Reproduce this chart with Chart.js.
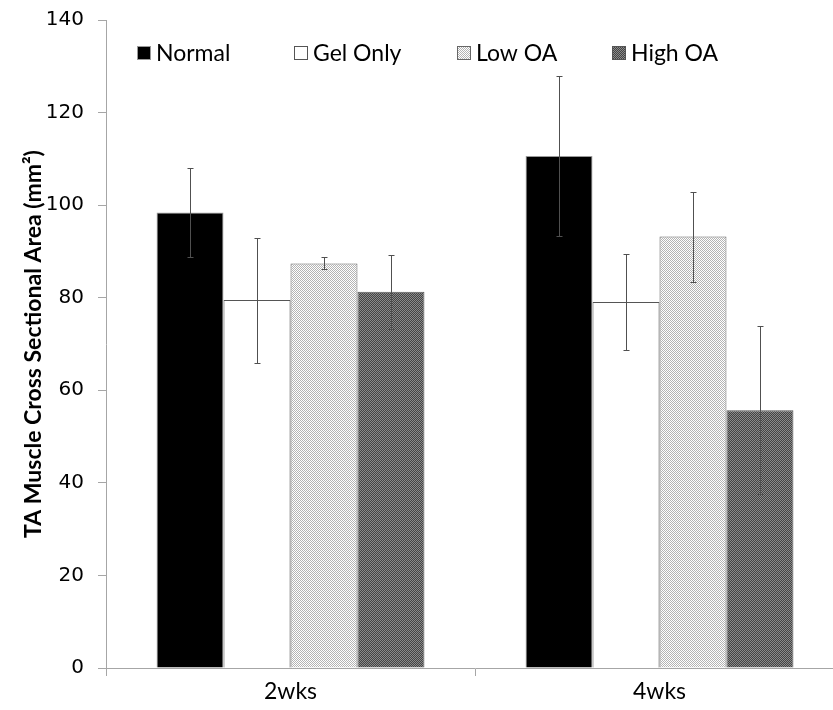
<!DOCTYPE html>
<html>
<head>
<meta charset="utf-8">
<script src="https://cdn.jsdelivr.net/npm/chart.js@4.4.1/dist/chart.umd.min.js"></script>
<style>
  html, body { margin:0; padding:0; background:#fff; overflow:hidden; }
  #wrap { width:833px; height:710px; overflow:hidden; position:relative; }
  #grafico { position:absolute; left:0; top:0; }
</style>
</head>
<body>
<div id="wrap"><canvas id="grafico" width="850" height="710"></canvas></div>
<script>
// dados
const categorias = ["2wks", "4wks"];
const grupos = ["Normal", "Gel Only", "Low OA", "High OA"];
const normal   = [98.4, 110.6];
const gelOnly  = [79.5, 79.1];
const lowOA    = [87.4, 93.2];
const highOA   = [81.3, 55.7];
const errNormal  = [9.6, 17.2];
const errGelOnly = [13.5, 10.4];
const errLowOA   = [1.3, 9.7];
const errHighOA  = [8.0, 18.2];
const yTicks = [0, 20, 40, 60, 80, 100, 120, 140];

function xadrez(c1, c2){
  const p = document.createElement("canvas");
  p.width = 2; p.height = 2;
  const g = p.getContext("2d");
  g.fillStyle = c1; g.fillRect(0,0,2,2);
  g.fillStyle = c2; g.fillRect(0,0,1,1); g.fillRect(1,1,1,1);
  return document.getElementById("grafico").getContext("2d").createPattern(p, "repeat");
}

const padraoLow = xadrez("#ffffff", "#b4b4b4");
const padraoHigh = xadrez("#444444", "#8a8a8a");

const estilos = [
  { bg:"#000000", borda:"#9a9a9a" },
  { bg:"#ffffff", borda:"#555555" },
  { bg:padraoLow, borda:"#666666" },
  { bg:padraoHigh, borda:"#555555" }
];
const valores = [normal, gelOnly, lowOA, highOA];
const erros = [errNormal, errGelOnly, errLowOA, errHighOA];

const barrasErro = {
  id:"barrasErro",
  afterDatasetsDraw(chart){
    const ctx = chart.ctx;
    const y = chart.scales.y;
    ctx.save();
    ctx.strokeStyle = "#505050";
    ctx.lineWidth = 1;
    chart.data.datasets.forEach((ds, i) => {
      const meta = chart.getDatasetMeta(i);
      meta.data.forEach((bar, j) => {
        const v = ds.data[j], e = ds.erro[j];
        const x = Math.round(bar.x) + 0.5;
        const yt = Math.round(y.getPixelForValue(v + e)) + 0.5;
        const yb = Math.round(y.getPixelForValue(v - e)) + 0.5;
        ctx.beginPath();
        ctx.moveTo(x, yt); ctx.lineTo(x, yb);
        ctx.moveTo(x - 3, yt); ctx.lineTo(x + 3, yt);
        ctx.moveTo(x - 3, yb); ctx.lineTo(x + 3, yb);
        ctx.stroke();
      });
    });
    ctx.restore();
  }
};

// legenda dentro da área do gráfico
const legendaX = [137, 294, 457, 612];
const legenda = {
  id:"legenda",
  afterDraw(chart){
    const ctx = chart.ctx;
    ctx.save();
    ctx.font = "23px Lato";
    ctx.textBaseline = "middle";
    chart.data.datasets.forEach((ds, i) => {
      const x = legendaX[i], yc = 53;
      ctx.fillStyle = ds.backgroundColor;
      ctx.fillRect(x, yc - 7, 14, 14);
      ctx.strokeStyle = ds.borderColor;
      ctx.lineWidth = 1;
      ctx.strokeRect(x + 0.5, yc - 6.5, 13, 13);
      ctx.fillStyle = "#000";
      ctx.fillText(ds.label, x + 19, yc + 1);
    });
    ctx.restore();
  }
};

new Chart(document.getElementById("grafico"), {
  type:"bar",
  data:{
    labels:categorias,
    datasets:grupos.map((g, i) => ({
      label:g,
      data:valores[i],
      erro:erros[i],
      backgroundColor:estilos[i].bg,
      borderColor:estilos[i].borda,
      borderWidth:1,
      categoryPercentage:0.726,
      barPercentage:1
    }))
  },
  options:{
    responsive:false,
    animation:false,
    layout:{ padding:{ top:20, right:6, left:0, bottom:0 } },
    plugins:{ legend:{ display:false }, tooltip:{ enabled:false } },
    scales:{
      x:{
        offset:true,
        grid:{ offset:true, drawOnChartArea:false, drawTicks:true, tickLength:8, color:"#a6a6a6" },
        border:{ color:"#a6a6a6" },
        ticks:{ color:"#000", font:{ family:"Lato", size:23 }, padding:2 },
        afterFit(s){ s.height = 42; }
      },
      y:{
        min:0, max:140,
        afterBuildTicks(s){ s.ticks = yTicks.map(v => ({ value:v })); },
        grid:{ drawOnChartArea:false, tickLength:8, color:"#a6a6a6" },
        border:{ color:"#a6a6a6" },
        ticks:{ color:"#000", font:{ family:"DejaVu Sans", size:20 }, padding:14 },
        title:{ display:true, text:"TA Muscle Cross Sectional Area (mm²)", color:"#000",
                font:{ family:"Lato", size:23, weight:"bold" }, padding:{ top:20, bottom:0 } },
        afterFit(s){ s.width = 106; s.paddingTop = 0; s.paddingBottom = 0; }
      }
    }
  },
  plugins:[barrasErro, legenda]
});
</script>
</body>
</html>
